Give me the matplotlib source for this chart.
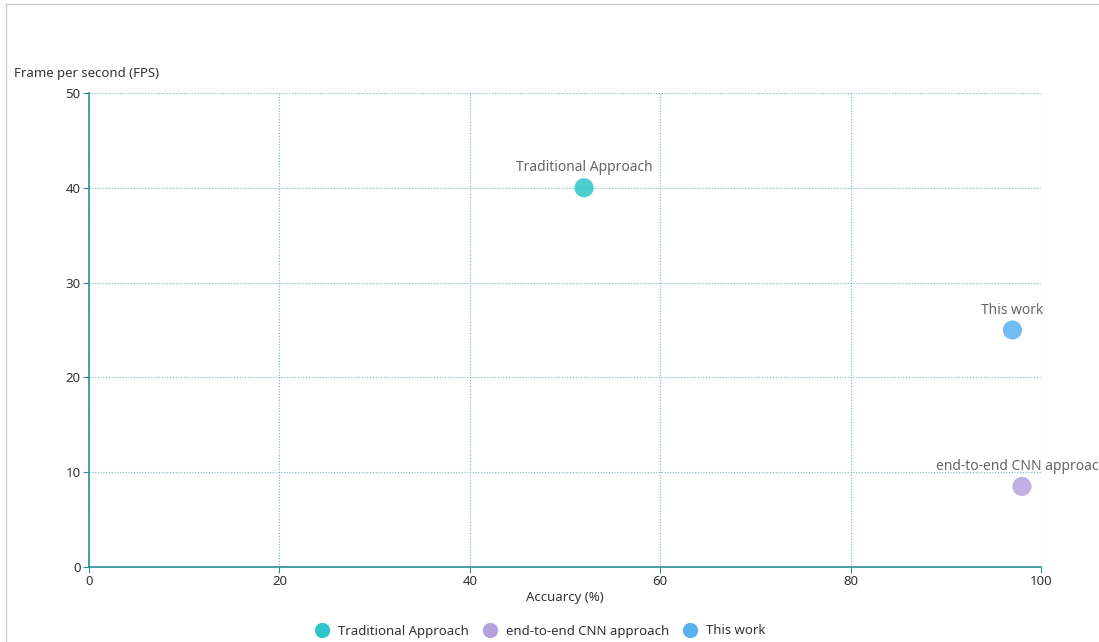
import matplotlib.pyplot as plt
from matplotlib.lines import Line2D

# Точки: точность (%) и скорость (FPS)
names = ['Traditional Approach', 'end-to-end CNN approach', 'This work']
accuracy = [52, 98, 97]
fps = [40, 8.5, 25]
colors = ['#2ec7c9', '#b6a2de', '#5ab1ef']

axis_color = '#2a8f99'
grid_color = '#7fb5bc'
text_color = '#333333'
label_color = '#666666'

plt.rcParams['font.family'] = ['Noto Sans', 'DejaVu Sans']

fig = plt.figure(figsize=(10.99, 6.42), dpi=100)
ax = fig.add_axes([89 / 1099, 1 - 567 / 642, (1041 - 89) / 1099, (567 - 93) / 642])

for name, x, y, c in zip(names, accuracy, fps, colors):
    ax.scatter(x, y, s=190, color=c, alpha=0.85, edgecolors='none', zorder=3, clip_on=False)
    ax.annotate(name, (x, y), xytext=(0, 9), textcoords='offset points',
                ha='center', va='bottom', fontsize=10, color=label_color,
                annotation_clip=False)

ax.set_xlim(0, 100)
ax.set_ylim(0, 50)
ax.set_xticks(range(0, 101, 20))
ax.set_yticks(range(0, 51, 10))
ax.grid(True, linestyle=(0, (1, 1.5)), color=grid_color, linewidth=0.8)
ax.set_axisbelow(True)

for side in ['top', 'right']:
    ax.spines[side].set_visible(False)
for side in ['left', 'bottom']:
    ax.spines[side].set_color(axis_color)
    ax.spines[side].set_linewidth(1.2)
ax.tick_params(colors=axis_color, labelcolor=text_color, labelsize=9.5, length=4, pad=2)

fig.text(14 / 1099, 1 - 73 / 642, 'Frame per second (FPS)', fontsize=9.5,
         color=text_color, va='center', ha='left')
fig.text(565 / 1099, 1 - 598 / 642, 'Accuarcy (%)', fontsize=9.5,
         color=text_color, va='center', ha='center')

handles = [Line2D([], [], marker='o', linestyle='none', markersize=11,
                  markerfacecolor=c, markeredgecolor='none') for c in colors]
fig.legend(handles, names, loc='center', bbox_to_anchor=(537 / 1099, 1 - 631 / 642),
           ncol=3, frameon=False, fontsize=9.5, handletextpad=0.2, columnspacing=0.6,
           labelcolor=text_color)

# рамка слева и сверху
fig.add_artist(Line2D([6 / 1099, 6 / 1099], [0, 1 - 4 / 642], color='#cccccc', lw=1))
fig.add_artist(Line2D([6 / 1099, 1], [1 - 4 / 642, 1 - 4 / 642], color='#cccccc', lw=1))

fig.savefig('out.png', dpi=100)
